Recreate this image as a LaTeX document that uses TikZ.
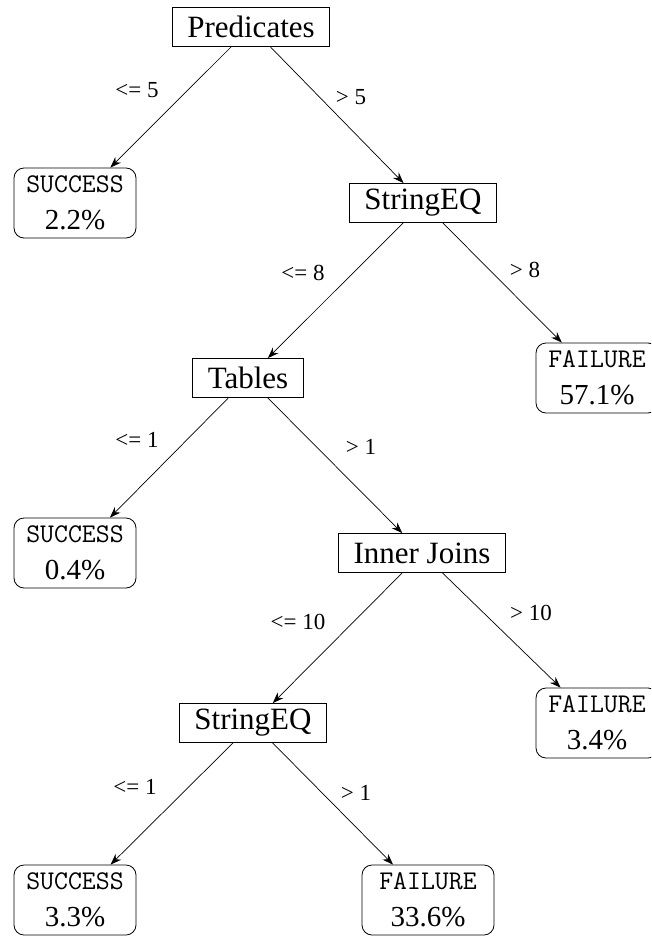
\documentclass[tikz,border=0pt]{standalone}
\usepackage{fontspec}
\setmainfont{Liberation Serif}
\usetikzlibrary{arrows.meta}
% typewriter face for the leaf outcome word
\newcommand{\kindfont}{\fontsize{27}{37}\selectfont\ttfamily}
\begin{document}
\begin{tikzpicture}[x=1pt,y=-1pt,
  split/.style={draw,line width=0.8pt,font=\fontsize{31}{33}\selectfont,inner xsep=15pt,inner ysep=0pt,minimum height=39pt},
  leaf/.style={draw,line width=0.8pt,rounded corners=10pt,align=center,minimum width=122pt,minimum height=70pt,inner sep=2pt,font=\fontsize{29}{37}\selectfont},
  tag/.style={font=\fontsize{23}{25}\selectfont},
  edge/.style={line width=0.7pt,-{Stealth[length=11pt,width=8pt]}}]
\useasboundingbox (0,0) rectangle (651,936);
\begin{scope}
\clip (0,0) rectangle (651,936);
% decision nodes
\node[split] (pred) at (251,27) {Predicates};
\node[split] (seq1) at (423,203) {StringEQ};
\node[split] (tab) at (248,378) {Tables};
\node[split] (ij) at (422,553) {Inner Joins};
\node[split] (seq2) at (253,723) {StringEQ};
% leaves
\node[leaf] (s1) at (75,203) {{\kindfont SUCCESS}\\2.2\%};
\node[leaf] (f1) at (597,378) {{\kindfont FAILURE}\\57.1\%};
\node[leaf] (s2) at (75,553) {{\kindfont SUCCESS}\\0.4\%};
\node[leaf] (f2) at (597,723) {{\kindfont FAILURE}\\3.4\%};
\node[leaf] (s3) at (75,900) {{\kindfont SUCCESS}\\3.3\%};
\node[leaf,minimum width=132pt] (f3) at (428,900) {{\kindfont FAILURE}\\33.6\%};
% branches
\draw[edge] (pred) -- (s1);
\draw[edge] (pred) -- (seq1);
\draw[edge] (seq1) -- (tab);
\draw[edge] (seq1) -- (f1);
\draw[edge] (tab) -- (s2);
\draw[edge] (tab) -- (ij);
\draw[edge] (ij) -- (seq2);
\draw[edge] (ij) -- (f2);
\draw[edge] (seq2) -- (s3);
\draw[edge] (seq2) -- (f3);
% branch conditions
\node[tag] (l1) at (137,90) {<= 5};
\node[tag] (l2) at (351,97) {> 5};
\node[tag] (l3) at (303,273) {<= 8};
\node[tag] (l4) at (525,270) {> 8};
\node[tag] (l5) at (137,440) {<= 1};
\node[tag] (l6) at (361,447) {> 1};
\node[tag] (l7) at (298,622) {<= 10};
\node[tag] (l8) at (531,613) {> 10};
\node[tag] (l9) at (135,787) {<= 1};
\node[tag] (l10) at (356,793) {> 1};
\end{scope}
\end{tikzpicture}
\end{document}
